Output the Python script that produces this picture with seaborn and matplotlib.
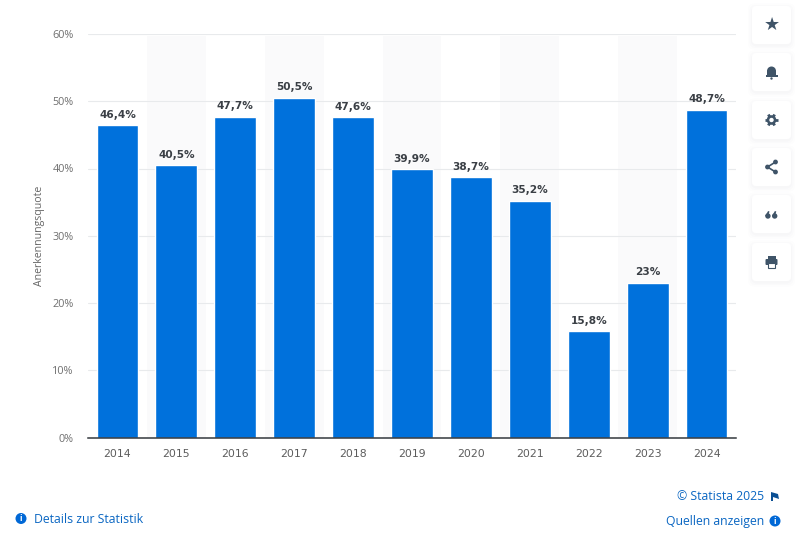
import matplotlib
matplotlib.use('Agg')
import matplotlib.pyplot as plt
from matplotlib.patches import FancyBboxPatch, Circle, Rectangle, Polygon
import seaborn as sns
import pandas as pd
import numpy as np

# Data
years = ['2014', '2015', '2016', '2017', '2018', '2019', '2020', '2021', '2022', '2023', '2024']
quote = [46.4, 40.5, 47.7, 50.5, 47.6, 39.9, 38.7, 35.2, 15.8, 23, 48.7]
y_ticks = [0, 10, 20, 30, 40, 50, 60]

BLUE = '#0071dc'
LINK = '#0a66c2'
ICON = '#3f5468'

sns.set_theme(style='white')
plt.rcParams['font.family'] = ['Open Sans', 'DejaVu Sans']

df = pd.DataFrame({'year': years, 'quote': quote})

fig = plt.figure(figsize=(8, 5.44), dpi=100, facecolor='white')
ax = fig.add_axes([88 / 800, 1 - 437.5 / 544, 648 / 800, 403.5 / 544])

# Grey bands behind every other year
for i in range(1, len(years), 2):
    ax.axvspan(i - 0.5, i + 0.5, ymin=0, ymax=0.995, color='#fafafb', lw=0, zorder=0)

ax.set_axisbelow(True)
ax.yaxis.grid(True, color='#e8eaec', lw=0.8)
sns.barplot(data=df, x='year', y='quote', color=BLUE, width=0.71, saturation=1, ax=ax, zorder=2)

ax.set_xlim(-0.5, len(years) - 0.5)
ax.set_ylim(0, 60)
ax.set_yticks(y_ticks)
ax.set_yticklabels([f'{t}%' for t in y_ticks], fontsize=7.8, color='#6f6f6f')
ax.tick_params(axis='y', length=0, pad=10.4)
ax.tick_params(axis='x', length=0, pad=8.5)
for lab in ax.get_xticklabels():
    lab.set_family('DejaVu Sans')
    lab.set_fontsize(7.8)
    lab.set_color('#5c5c5c')
ax.set_xlabel('')
ax.set_ylabel('Anerkennungsquote', fontsize=7.6, color='#666666', labelpad=5)

sns.despine(ax=ax, left=True, top=True, right=True)
ax.spines['bottom'].set_color('#33383d')
ax.spines['bottom'].set_linewidth(1.1)

# Value labels
for i, v in enumerate(quote):
    txt = f'{v:g}%'.replace('.', ',')
    ax.annotate(txt, (i, v), xytext=(0, 4), textcoords='offset points', ha='center', va='bottom',
                fontsize=7.6, fontweight='bold', color='#3a3f45', family='DejaVu Sans')

# Page chrome, drawn in pixel coordinates
ov = fig.add_axes([0, 0, 1, 1], facecolor='none')
ov.set_xlim(0, 800)
ov.set_ylim(544, 0)
ov.axis('off')

ov.text(34, 519.5, 'Details zur Statistik', fontsize=8.85, color=LINK, va='center', ha='left')
ov.text(764, 496.5, '© Statista 2025', fontsize=8.85, color=LINK, va='center', ha='right')
ov.text(764, 521.5, 'Quellen anzeigen', fontsize=8.85, color=LINK, va='center', ha='right')


def info_dot(x, y):
    ov.add_patch(Circle((x, y), 5.5, color='#0068d6', lw=0))
    ov.text(x, y + 0.3, 'i', fontsize=6, fontweight='bold', color='white', ha='center', va='center')


info_dot(21, 518.5)
info_dot(775, 521)
ov.add_patch(Polygon([(771, 492), (778, 494), (779, 499), (773, 497), (773, 501), (771, 501)],
                     color='#0b4f94', lw=0))

# Toolbar buttons
centers = [25, 72, 120, 167, 214, 262]
for cy in centers:
    for grow, alpha in [(4, 0.012), (2.5, 0.015), (1, 0.02)]:
        ov.add_patch(FancyBboxPatch((752 - grow, cy - 19 - grow + 1.5), 39 + 2 * grow, 38 + 2 * grow,
                                    boxstyle='round,pad=0,rounding_size=6', fc='#6a7a8a', alpha=alpha, lw=0))
    ov.add_patch(FancyBboxPatch((752, cy - 19), 39, 38, boxstyle='round,pad=0,rounding_size=4',
                                fc='white', ec='none', lw=0))

X = 771.5
ov.text(X, 25, '★', fontsize=13, color=ICON, ha='center', va='center', family='DejaVu Sans')

# bell
ov.add_patch(Circle((X, 71), 4.5, color=ICON, lw=0))
ov.add_patch(Rectangle((X - 4.5, 71), 9, 4, color=ICON, lw=0))
ov.add_patch(Rectangle((X - 6, 75), 12, 2, color=ICON, lw=0))
ov.add_patch(Circle((X, 78.5), 1.2, color=ICON, lw=0))

# gear
ov.add_patch(Circle((X, 120), 4.8, color=ICON, lw=0))
for a in np.arange(0, np.pi, np.pi / 3):
    dx, dy = 6.3 * np.cos(a), 6.3 * np.sin(a)
    ov.plot([X - dx, X + dx], [120 - dy, 120 + dy], color=ICON, lw=2, solid_capstyle='butt')
ov.add_patch(Circle((X, 120), 2.2, color='white', lw=0, zorder=5))

# share
pts = [(X + 4, 162), (X - 4, 167), (X + 4, 172)]
ov.plot([p[0] for p in pts], [p[1] for p in pts], color=ICON, lw=1.2)
for p in pts:
    ov.add_patch(Circle(p, 2.4, color=ICON, lw=0))

# quotes
for qx in (X - 3.6, X + 3.2):
    ov.add_patch(Circle((qx, 216), 2.7, color=ICON, lw=0))
    ov.add_patch(Polygon([(qx - 2.7, 216), (qx + 0.2, 211), (qx + 1.6, 211.5), (qx + 0.2, 216)], color=ICON, lw=0))

# printer
ov.add_patch(Rectangle((X - 4, 256), 8, 4, color=ICON, lw=0))
ov.add_patch(FancyBboxPatch((X - 6, 259), 12, 6, boxstyle='round,pad=0,rounding_size=1', color=ICON, lw=0))
ov.add_patch(Rectangle((X - 3.5, 263), 7, 4.5, fc='white', ec=ICON, lw=0.8))

fig.savefig('out.png', dpi=100)
